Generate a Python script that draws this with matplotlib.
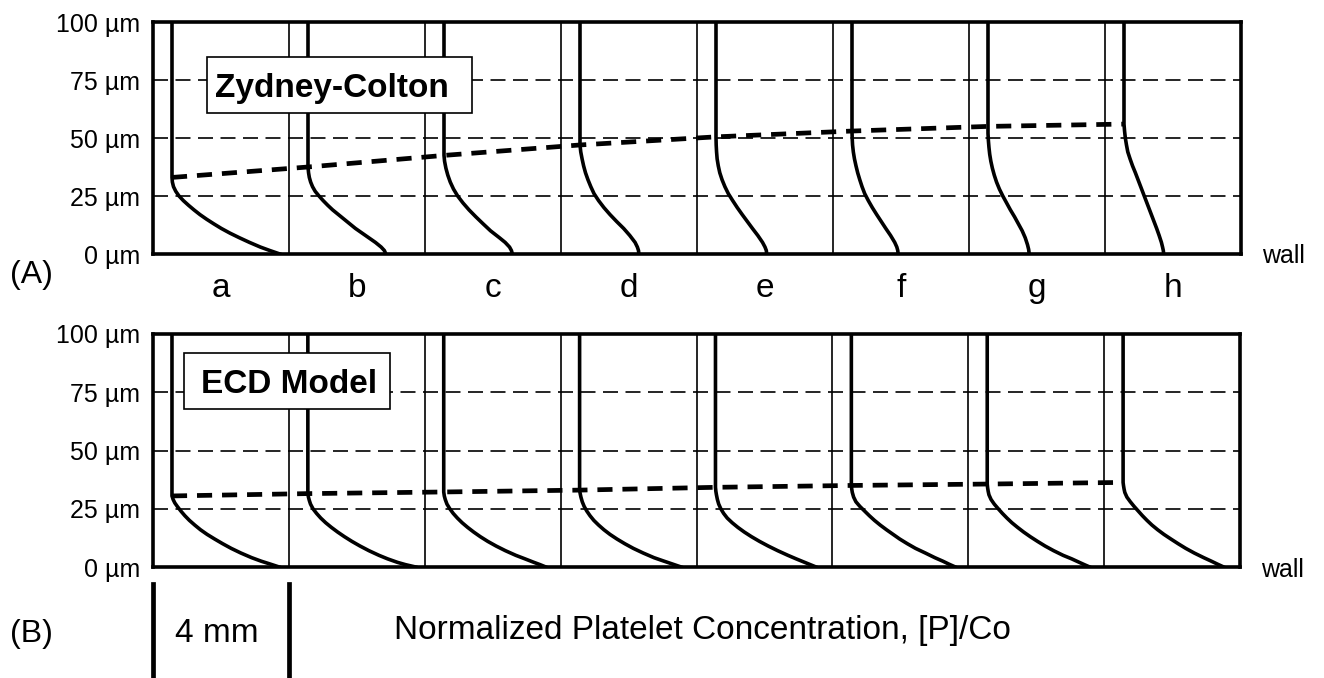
import matplotlib
matplotlib.use("Agg")
import matplotlib.pyplot as plt
import numpy as np
from matplotlib.patches import Rectangle
from matplotlib.transforms import blended_transform_factory

plt.rcParams['font.family'] = ['Liberation Sans', 'DejaVu Sans']

# ---- data ----
positions = ['a', 'b', 'c', 'd', 'e', 'f', 'g', 'h']
heights_um = [0, 25, 50, 75, 100]
bulk_conc = 1.0

# Zydney-Colton: boundary layer thickness (um) and profiles (height um, [P]/Co)
zc_delta = [33, 37.5, 42.5, 47, 50.5, 53, 55, 56]
zc_h = [
    [33, 31, 29, 27, 25, 23, 21, 19, 17, 15, 13, 11, 9, 7, 5, 3, 1.5, 0],
    [37.5, 35, 33, 31, 29, 27, 25, 23, 21, 19, 17, 15, 13, 11, 9, 7, 5, 3, 1.5, 0],
    [42.5, 40, 37, 34, 31, 28, 25, 22, 19, 16, 13, 10, 7, 5, 3, 1.5, 0],
    [47, 44, 41, 38, 35, 32, 29, 26, 23, 20, 17, 14, 11, 8, 5, 3, 1.5, 0],
    [50.5, 47, 44, 41, 38, 35, 32, 29, 26, 23, 20, 17, 14, 11, 8, 5, 3, 1.5, 0],
    [53, 50, 47, 44, 41, 38, 35, 32, 29, 26, 23, 20, 17, 14, 11, 8, 5, 3, 1.5, 0],
    [55, 52, 49, 46, 43, 40, 37, 34, 31, 28, 25, 22, 19, 16, 13, 10, 7, 4, 2, 0],
    [56, 53, 50, 47, 44, 41, 38, 35, 32, 29, 26, 23, 20, 17, 14, 11, 8, 5, 3, 1.5, 0],
]
zc_c = [
    [1.0, 1.02, 1.08, 1.2, 1.37, 1.6, 1.87, 2.16, 2.47, 2.82, 3.2, 3.6, 4.05, 4.55, 5.08,
     5.65, 6.15, 6.68],
    [1.0, 1.03, 1.07, 1.14, 1.24, 1.38, 1.58, 1.8, 2.04, 2.3, 2.6, 2.9, 3.2, 3.5, 3.85,
     4.2, 4.55, 4.85, 5.02, 5.1],
    [1.0, 1.03, 1.1, 1.2, 1.33, 1.5, 1.72, 2.0, 2.32, 2.68, 3.06, 3.45, 3.92, 4.22, 4.45,
     4.55, 4.6],
    [1.0, 1.04, 1.11, 1.19, 1.29, 1.42, 1.57, 1.74, 1.98, 2.26, 2.58, 2.93, 3.3, 3.62,
     3.9, 4.02, 4.08, 4.1],
    [1.0, 1.01, 1.03, 1.06, 1.12, 1.2, 1.32, 1.47, 1.65, 1.88, 2.12, 2.38, 2.65, 2.92,
     3.2, 3.45, 3.58, 3.65, 3.67],
    [1.0, 1.01, 1.03, 1.07, 1.13, 1.21, 1.3, 1.41, 1.53, 1.67, 1.86, 2.07, 2.3, 2.54,
     2.78, 3.03, 3.25, 3.36, 3.41, 3.43],
    [1.0, 1.0, 1.02, 1.05, 1.09, 1.15, 1.23, 1.33, 1.45, 1.6, 1.78, 1.98, 2.18, 2.4, 2.6,
     2.8, 2.96, 3.08, 3.14, 3.17],
    [1.0, 1.03, 1.07, 1.13, 1.2, 1.32, 1.45, 1.6, 1.74, 1.88, 2.02, 2.16, 2.3, 2.44, 2.58,
     2.72, 2.85, 2.97, 3.03, 3.07, 3.09],
]

# ECD model
ecd_delta = [30.5, 31.5, 32.2, 33, 34.2, 35, 35.6, 36.3]
ecd_h = [
    [30.5, 29, 27.5, 26, 24, 22, 20, 18, 16, 14, 12, 10, 8, 6, 4, 2.5, 1.2, 0],
    [31.5, 30, 28.5, 27, 25, 23, 21, 19, 17, 15, 13, 11, 9, 7, 5, 3.5, 2, 1, 0],
    [32.2, 30.5, 29, 27, 25, 23, 21, 19, 17, 15, 13, 11, 9, 7, 5, 3.5, 2, 1, 0],
    [33, 31.5, 30, 28, 26, 24, 22, 20, 18, 16, 14, 12, 10, 8, 6, 4, 2.5, 1.2, 0],
    [34.2, 32.5, 31, 29, 27, 25, 23, 21, 19, 17, 15, 13, 11, 9, 7, 5, 3.5, 2, 1, 0],
    [35, 33.5, 32, 30, 28, 26, 24, 22, 20, 18, 16, 14, 12, 10, 8, 6, 4, 2.5, 1.2, 0],
    [35.6, 34, 32.5, 31, 29, 27, 25, 23, 21, 19, 17, 15, 13, 11, 9, 7, 5, 3.5, 2, 1, 0],
    [36.3, 35, 33.5, 32, 30, 28, 26, 24, 22, 20, 18, 16, 14, 12, 10, 8, 6, 4, 2.5, 1.2, 0],
]
ecd_c = [
    [1.0, 1.06, 1.15, 1.28, 1.47, 1.68, 1.92, 2.2, 2.5, 2.85, 3.25, 3.67, 4.12, 4.63, 5.2,
     5.7, 6.2, 6.65],
    [1.0, 1.03, 1.08, 1.14, 1.27, 1.46, 1.68, 1.94, 2.24, 2.57, 2.93, 3.32, 3.75, 4.22,
     4.75, 5.2, 5.72, 6.15, 6.68],
    [1.0, 1.03, 1.08, 1.17, 1.32, 1.5, 1.72, 1.97, 2.26, 2.58, 2.93, 3.32, 3.76, 4.25, 4.8,
     5.28, 5.75, 6.08, 6.38],
    [1.0, 1.03, 1.07, 1.14, 1.24, 1.38, 1.55, 1.75, 2.0, 2.28, 2.6, 2.97, 3.38, 3.83, 4.35,
     4.92, 5.45, 5.92, 6.35],
    [1.0, 1.02, 1.05, 1.1, 1.17, 1.28, 1.43, 1.62, 1.88, 2.18, 2.52, 2.9, 3.32, 3.78, 4.28,
     4.82, 5.25, 5.7, 6.0, 6.3],
    [1.0, 1.02, 1.05, 1.12, 1.24, 1.45, 1.7, 1.95, 2.22, 2.52, 2.85, 3.2, 3.55, 3.95, 4.38,
     4.9, 5.4, 5.82, 6.15, 6.48],
    [1.0, 1.02, 1.05, 1.09, 1.2, 1.37, 1.58, 1.8, 2.04, 2.3, 2.6, 2.92, 3.27, 3.65, 4.05,
     4.5, 5.0, 5.45, 5.85, 6.12, 6.4],
    [1.0, 1.02, 1.05, 1.09, 1.2, 1.38, 1.58, 1.8, 2.02, 2.26, 2.52, 2.82, 3.15, 3.52, 3.9,
     4.3, 4.75, 5.25, 5.65, 5.98, 6.3],
]

W = 7.16  # width of one slot (4 mm) in [P]/Co units

fig = plt.figure(figsize=(13.24, 6.78), dpi=100)
ax_a = fig.add_axes([153/1324, 1-254/678, 1088/1324, 232/678])
ax_b = fig.add_axes([153/1324, 1-567/678, 1087/1324, 233/678])


def draw_panel(ax, delta, hs, cs, name, box, text_pos):
    n = len(positions)
    ax.set_xlim(0, n*W)
    ax.set_ylim(0, 100)
    for s in ax.spines.values():
        s.set_linewidth(2.6)
        s.set_zorder(7)
    for y in heights_um[1:-1]:
        ax.axhline(y, color='black', lw=1.2, dashes=(9, 4.5), zorder=1)
    for i in range(1, n):
        ax.axvline(i*W, color='black', lw=1.2, zorder=1)
    for i in range(n):
        x0 = i*W
        ax.plot(x0 + np.array([bulk_conc] + cs[i]), [heights_um[-1]] + hs[i],
                color='black', lw=2.6, solid_joinstyle='round', zorder=3)
    ax.plot(np.arange(n)*W + bulk_conc, delta, color='black', lw=3.4,
            dashes=(3.2, 2.1), zorder=4)
    ax.set_yticks(heights_um)
    ax.set_yticklabels([f'{v} µm' for v in heights_um])
    ax.tick_params(axis='y', length=0, pad=9, labelsize=18)
    ax.add_patch(Rectangle((box[0], box[1]), box[2]-box[0], box[3]-box[1],
                           transform=ax.transAxes, fc='white', ec='black',
                           lw=1.2, zorder=5))
    ax.text(text_pos[0], text_pos[1], name, transform=ax.transAxes,
            fontsize=24, fontweight='bold', va='baseline', zorder=6)


draw_panel(ax_a, zc_delta, zc_h, zc_c, 'Zydney-Colton',
           (0.0496, 0.608, 0.2932, 0.849), (0.057, 0.677))
draw_panel(ax_b, ecd_delta, ecd_h, ecd_c, 'ECD Model',
           (0.0285, 0.679, 0.218, 0.92), (0.0442, 0.748))

ax_a.set_xticks((np.arange(len(positions)) + 0.5)*W)
ax_a.set_xticklabels(positions)
ax_a.tick_params(axis='x', length=0, pad=14, labelsize=24)
ax_b.set_xticks([])

ax_a.text(1.019, -0.039, 'wall', transform=ax_a.transAxes, fontsize=18, va='baseline')
ax_b.text(1.019, -0.043, 'wall', transform=ax_b.transAxes, fontsize=18, va='baseline')

fig.text(10/1324, 1-275/678, '(A)', fontsize=23, va='center')
fig.text(10/1324, 1-634/678, '(B)', fontsize=23, va='center')

# 4 mm scale bar under the first slot
trans = blended_transform_factory(ax_b.transData, fig.transFigure)
for xb in [0, W]:
    ax_b.plot([xb, xb], [0, 1-584/678], transform=trans, clip_on=False,
              color='black', lw=3.4)
fig.text(217/1324, 1-634/678, '4 mm', fontsize=24, ha='center', va='center')
fig.text(702/1324, 1-630/678, 'Normalized Platelet Concentration, [P]/Co',
         fontsize=24, ha='center', va='center')

fig.savefig('out.png', dpi=100)
